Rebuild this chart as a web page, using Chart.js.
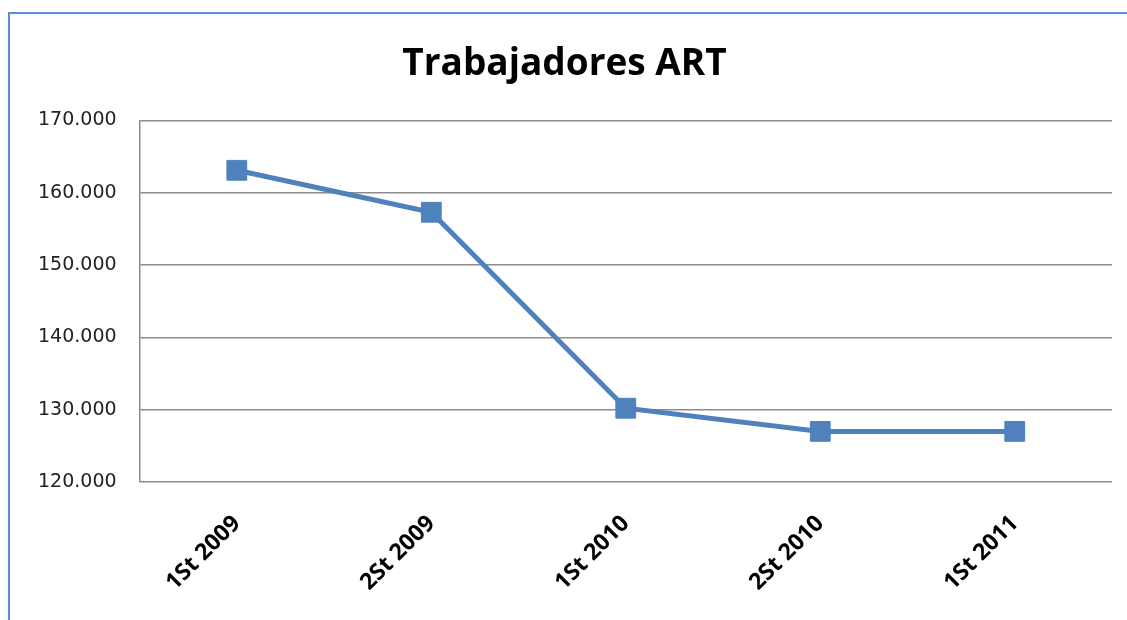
<!DOCTYPE html>
<html>
<head>
<meta charset="utf-8">
<script src="https://cdn.jsdelivr.net/npm/chart.js@4/dist/chart.umd.min.js"></script>
<style>
  html, body { margin: 0; padding: 0; background: #fff; }
  #wrap { position: relative; width: 1127px; height: 620px; overflow: hidden; }
  #frame { position: absolute; left: 8px; top: 12px; width: 1200px; height: 700px;
           border-top: 2px solid #5b8ed6; border-left: 2px solid #5b8ed6; }
  canvas { position: absolute; left: 0; top: 0; }
</style>
</head>
<body>
<div id="wrap">
  <div id="frame"></div>
  <canvas id="myChart" width="1127" height="620"></canvas>
</div>
<script>
// periods on the x axis
const periods = ['1St 2009', '2St 2009', '1St 2010', '2St 2010', '1St 2011'];
// number of workers
const workers = [163100, 157300, 130200, 127000, 127000];
// y axis range
const yMin = 120000;
const yMax = 170000;
const yStep = 10000;

const fmtMiles = (v) => {
    // 170000 -> 170.000
    return String(v).replace(/\B(?=(\d{3})+(?!\d))/g, '.');
};

const config = {
    type: 'line',
    data: {
        labels: periods,
        datasets: [{
            label: 'Trabajadores',
            data: workers,
            borderColor: '#4f81bd',
            backgroundColor: '#4f81bd',
            borderWidth: 5,
            pointStyle: 'rect',
            pointRadius: 14,
            pointBorderWidth: 1,
            pointBorderColor: '#4f81bd',
            tension: 0
        }]
    },
    options: {
        responsive: false,
        animation: false,
        layout: {
            padding: { left: 15, right: 13, top: 42, bottom: 0 }
        },
        plugins: {
            legend: { display: false },
            tooltip: { enabled: false },
            title: {
                display: true,
                text: 'Trabajadores ART',
                color: '#000',
                font: { family: 'Open Sans', size: 37, weight: 'bold' },
                padding: { top: 0, bottom: 34 }
            }
        },
        scales: {
            x: {
                offset: true,
                grid: { display: false, drawTicks: false },
                border: { display: false },
                ticks: {
                    color: '#000',
                    font: { family: 'Open Sans', size: 23, weight: 'bold' },
                    minRotation: 45,
                    maxRotation: 45,
                    padding: 28
                },
                // the labels hang lower than the box chart.js would reserve
                afterFit: (axis) => { axis.height = 138; }
            },
            y: {
                min: yMin,
                max: yMax,
                grid: { color: '#8c8c8c', lineWidth: 1.5, drawTicks: false },
                border: { display: true, color: '#8c8c8c', width: 1.5 },
                ticks: {
                    stepSize: yStep,
                    color: '#222',
                    font: { family: 'DejaVu Sans', size: 19 },
                    padding: 23,
                    callback: (v) => fmtMiles(v)
                }
            }
        }
    }
};

let myChart = new Chart(document.getElementById('myChart'), config);
</script>
</body>
</html>
